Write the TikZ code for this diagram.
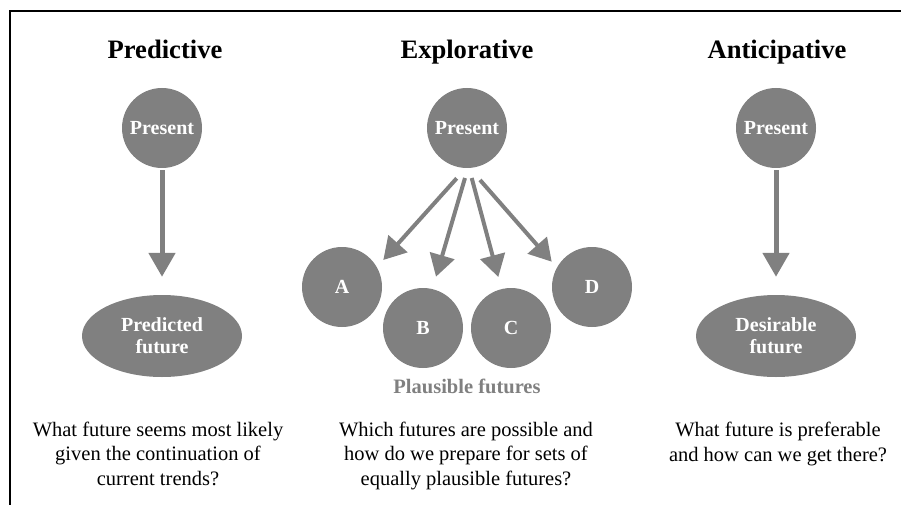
\documentclass[tikz,border=0pt]{standalone}
\usepackage{fontspec}
\setmainfont{Liberation Serif}
\usetikzlibrary{arrows.meta,shapes.geometric}
\definecolor{nodegray}{HTML}{808080}
\begin{document}
\begin{tikzpicture}[x=1pt,y=-1pt,
  present/.style={circle, fill=nodegray, minimum size=80pt, inner sep=0pt, text=white, font=\bfseries\fontsize{20}{22}\selectfont},
  future/.style={ellipse, fill=nodegray, minimum width=160pt, minimum height=82pt, inner sep=0pt, text=white, align=center, font=\bfseries\fontsize{20}{22}\selectfont},
  title/.style={anchor=base, font=\bfseries\fontsize{26.6}{30}\selectfont},
  question/.style={anchor=base, align=center, font=\fontsize{20.5}{24.5}\selectfont},
  arrbig/.style={draw=nodegray, line width=5pt, -{Triangle[length=24pt,width=26pt]}},
  arrsmall/.style={draw=nodegray, line width=4pt, -{Triangle[length=22pt,width=25pt]}}]
\useasboundingbox (0,0) rectangle (901,505);
\draw[line width=1.2pt] (10,505) -- (10,11) -- (901,11);

% Predictive
\node[title] (t1) at (165,59) {Predictive};
\node[present] (p1) at (162,128) {Present};
\node[future] (f1) at (162,336) {Predicted\\future};
\draw[arrbig, shorten <=2pt, shorten >=18pt] (p1) -- (f1);
\node[question] (q1) at (158,485) {What future seems most likely\\given the continuation of\\current trends?};

% Explorative
\node[title] (t2) at (467,59) {Explorative};
\node[present] (p2) at (467,128) {Present};
\node[present] (a) at (342,287) {A};
\node[present] (b) at (423,328) {B};
\node[present] (c) at (511,328) {C};
\node[present] (d) at (592,287) {D};
\coordinate (s1) at (456.7,178.3);
\coordinate (s2) at (465,178);
\coordinate (s3) at (471.7,178);
\coordinate (s4) at (480,180);
\coordinate (e1) at (383.3,260);
\coordinate (e2) at (436,276.7);
\coordinate (e3) at (498.3,277);
\coordinate (e4) at (551.7,261.7);
\draw[arrsmall] (s1) -- (e1);
\draw[arrsmall] (s2) -- (e2);
\draw[arrsmall] (s3) -- (e3);
\draw[arrsmall] (s4) -- (e4);
\node[anchor=base, text=nodegray, font=\bfseries\fontsize{20.5}{24}\selectfont] (pl) at (467,393) {Plausible futures};
\node[question] (q2) at (466,485) {Which futures are possible and\\how do we prepare for sets of\\equally plausible futures?};

% Anticipative
\node[title] (t3) at (777,59) {Anticipative};
\node[present] (p3) at (776,128) {Present};
\node[future] (f3) at (776,336) {Desirable\\future};
\draw[arrbig, shorten <=2pt, shorten >=18pt] (p3) -- (f3);
\node[question] (q3) at (778,461) {What future is preferable\\and how can we get there?};
\end{tikzpicture}
\end{document}
